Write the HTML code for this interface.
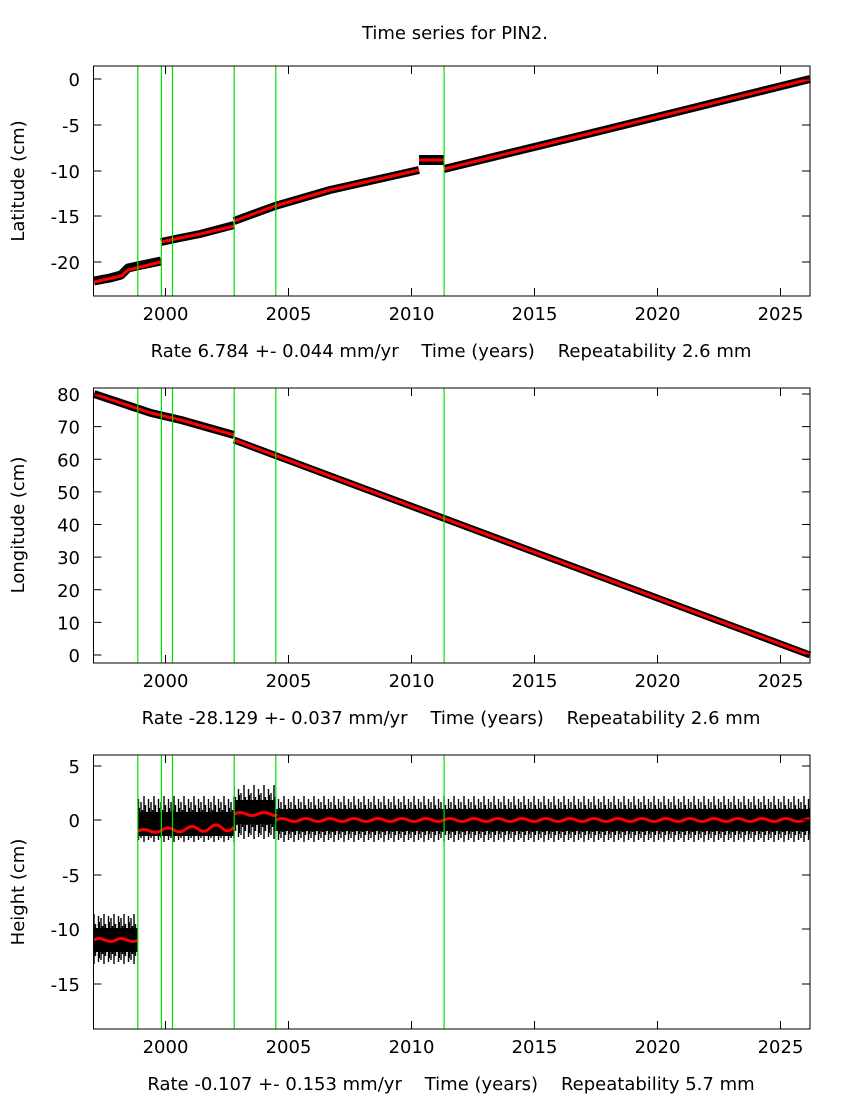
<!DOCTYPE html>
<html><head><meta charset="utf-8"><style>
body{margin:0;background:#fff}
svg text{font-family:"DejaVu Sans","Liberation Sans",sans-serif;font-size:18px;fill:#000}
</style></head><body>
<svg width="850" height="1100" xmlns="http://www.w3.org/2000/svg">
<defs>
<clipPath id="c3"><rect x="93.5" y="755" width="716.5" height="274"/></clipPath>
<pattern id="hn" patternUnits="userSpaceOnUse" x="0" y="790" width="10" height="60">
<path d="M1 12V48M2.5 20V42M4 6V52M5.5 15V45M7 22V38M8.5 9V50M9.5 18V44" stroke="#000" stroke-width="1.4"/>
</pattern>
<pattern id="hn1" patternUnits="userSpaceOnUse" x="0" y="910" width="10" height="60">
<path d="M1 8V50M2.5 16V44M4 4V54M5.5 14V46M7 18V42M8.5 6V52M9.5 12V48" stroke="#000" stroke-width="1.4"/>
</pattern>
<pattern id="hn3" patternUnits="userSpaceOnUse" x="0" y="783" width="10" height="60">
<path d="M1 10V52M2.5 18V44M4 2V56M5.5 14V48M7 20V42M8.5 6V54M9.5 12V50" stroke="#000" stroke-width="1.4"/>
</pattern>
</defs>
<text x="455" y="39" text-anchor="middle">Time series for PIN2.</text>

<!-- Panel 1 -->
<g fill="none" stroke-linejoin="round">
<polyline points="94,281 110,278 121,275 128,268 137,266 161,261" stroke="#000" stroke-width="9"/>
<polyline points="161,242 180,238 200,234 234,225" stroke="#000" stroke-width="8"/>
<polyline points="234,221 275,206 330,190 419,170" stroke="#000" stroke-width="8"/>
<polyline points="419,160 444,160" stroke="#000" stroke-width="10"/>
<polyline points="444,169 600,131 810,79" stroke="#000" stroke-width="8"/>
<polyline points="94,282 121,276 128,270 161,262" stroke="#f00" stroke-width="3"/>
<polyline points="161,242 180,238 200,234 234,226" stroke="#f00" stroke-width="3"/>
<polyline points="234,221 275,206 330,190 419,170" stroke="#f00" stroke-width="3"/>
<polyline points="419,160 444,160" stroke="#f00" stroke-width="3"/>
<polyline points="444,169 600,131 810,79" stroke="#f00" stroke-width="3"/>
</g>
<g stroke="#00e000" stroke-width="1.2">
<line x1="137.8" y1="66" x2="137.8" y2="296"/><line x1="161.4" y1="66" x2="161.4" y2="296"/><line x1="172.5" y1="66" x2="172.5" y2="296"/><line x1="234.2" y1="66" x2="234.2" y2="296"/><line x1="275.8" y1="66" x2="275.8" y2="296"/><line x1="444.1" y1="66" x2="444.1" y2="296"/>
</g>
<rect x="93.5" y="66" width="716.5" height="230" fill="none" stroke="#000"/>
<g stroke="#000">
<path d="M93.5 79h8M93.5 125h8M93.5 171h8M93.5 216h8M93.5 262h8M810 79h-8M810 125h-8M810 171h-8M810 216h-8M810 262h-8"/>
<path d="M165.5 296v-8M288.5 296v-8M411.5 296v-8M534.5 296v-8M657.5 296v-8M780.5 296v-8M165.5 66v8M288.5 66v8M411.5 66v8M534.5 66v8M657.5 66v8M780.5 66v8"/>
</g>
<g text-anchor="end"><text x="80" y="86">0</text><text x="80" y="132">-5</text><text x="80" y="178">-10</text><text x="80" y="223">-15</text><text x="80" y="269">-20</text></g>
<g text-anchor="middle"><text x="165.5" y="320">2000</text><text x="288.5" y="320">2005</text><text x="411.5" y="320">2010</text><text x="534.5" y="320">2015</text><text x="657.5" y="320">2020</text><text x="780.5" y="320">2025</text></g>
<text transform="translate(24 181) rotate(-90)" text-anchor="middle">Latitude (cm)</text>
<text x="451" y="357" text-anchor="middle" xml:space="preserve">Rate 6.784 +- 0.044 mm/yr    Time (years)    Repeatability 2.6 mm</text>

<!-- Panel 2 -->
<g fill="none" stroke-linejoin="round">
<polyline points="94,394 151,413 181,420 234,435" stroke="#000" stroke-width="8"/>
<polyline points="234,440 810,655" stroke="#000" stroke-width="7"/>
<polyline points="94,394 151,413 181,420 234,435" stroke="#f00" stroke-width="3"/>
<polyline points="234,440 810,655" stroke="#f00" stroke-width="3"/>
</g>
<g stroke="#00e000" stroke-width="1.2">
<line x1="137.8" y1="388" x2="137.8" y2="663"/><line x1="161.4" y1="388" x2="161.4" y2="663"/><line x1="172.5" y1="388" x2="172.5" y2="663"/><line x1="234.2" y1="388" x2="234.2" y2="663"/><line x1="275.8" y1="388" x2="275.8" y2="663"/><line x1="444.1" y1="388" x2="444.1" y2="663"/>
</g>
<rect x="93.5" y="388" width="716.5" height="275" fill="none" stroke="#000"/>
<g stroke="#000">
<path d="M93.5 394h8M93.5 426.6h8M93.5 459.3h8M93.5 491.9h8M93.5 524.5h8M93.5 557.1h8M93.5 589.8h8M93.5 622.4h8M93.5 655h8M810 394h-8M810 426.6h-8M810 459.3h-8M810 491.9h-8M810 524.5h-8M810 557.1h-8M810 589.8h-8M810 622.4h-8M810 655h-8"/>
<path d="M165.5 663v-8M288.5 663v-8M411.5 663v-8M534.5 663v-8M657.5 663v-8M780.5 663v-8M165.5 388v8M288.5 388v8M411.5 388v8M534.5 388v8M657.5 388v8M780.5 388v8"/>
</g>
<g text-anchor="end"><text x="80" y="401">80</text><text x="80" y="433.6">70</text><text x="80" y="466.3">60</text><text x="80" y="498.9">50</text><text x="80" y="531.5">40</text><text x="80" y="564.1">30</text><text x="80" y="596.8">20</text><text x="80" y="629.4">10</text><text x="80" y="662">0</text></g>
<g text-anchor="middle"><text x="165.5" y="687">2000</text><text x="288.5" y="687">2005</text><text x="411.5" y="687">2010</text><text x="534.5" y="687">2015</text><text x="657.5" y="687">2020</text><text x="780.5" y="687">2025</text></g>
<text transform="translate(24 525) rotate(-90)" text-anchor="middle">Longitude (cm)</text>
<text x="451" y="724" text-anchor="middle" xml:space="preserve">Rate -28.129 +- 0.037 mm/yr    Time (years)    Repeatability 2.6 mm</text>

<!-- Panel 3 -->
<g clip-path="url(#c3)">
<rect x="94" y="910" width="44" height="60" fill="url(#hn1)"/>
<rect x="94" y="928" width="44" height="24" fill="#000"/>
<rect x="138" y="790" width="96" height="60" fill="url(#hn)"/>
<rect x="138" y="812" width="96" height="24" fill="#000"/>
<rect x="234" y="783" width="42" height="60" fill="url(#hn3)"/>
<rect x="234" y="800" width="42" height="24" fill="#000"/>
<rect x="276" y="790" width="534" height="60" fill="url(#hn)"/>
<rect x="276" y="809" width="534" height="22" fill="#000"/>
<g fill="none" stroke="#f00" stroke-width="3">
<path d="M94 940q5 -3 11 0t11 0t11 0t11 0"/>
<path d="M138 831q6 -3 12 0t12 -1t12 0t12 -1t12 0t12 -1t12 0t12 -1"/>
<path d="M234 814q6 -3 12 0t12 0t12 0t6 0"/>
<path d="M276 820q6 -3 12 0t12 0t12 0t12 0t12 0t12 0t12 0t12 0t12 0t12 0t12 0t12 0t12 0t12 0t12 0t12 0t12 0t12 0t12 0t12 0t12 0t12 0t12 0t12 0t12 0t12 0t12 0t12 0t12 0t12 0t12 0t12 0t12 0t12 0t12 0t12 0t12 0t12 0t12 0t12 0t12 0t12 0t12 0t12 0t12 0t6 0"/>
</g>
</g>
<g stroke="#00e000" stroke-width="1.2">
<line x1="137.8" y1="755" x2="137.8" y2="1029"/><line x1="161.4" y1="755" x2="161.4" y2="1029"/><line x1="172.5" y1="755" x2="172.5" y2="1029"/><line x1="234.2" y1="755" x2="234.2" y2="1029"/><line x1="275.8" y1="755" x2="275.8" y2="1029"/><line x1="444.1" y1="755" x2="444.1" y2="1029"/>
</g>
<rect x="93.5" y="755" width="716.5" height="274" fill="none" stroke="#000"/>
<g stroke="#000">
<path d="M93.5 766h8M93.5 820h8M93.5 875h8M93.5 929h8M93.5 984h8M810 766h-8M810 820h-8M810 875h-8M810 929h-8M810 984h-8"/>
<path d="M165.5 1029v-8M288.5 1029v-8M411.5 1029v-8M534.5 1029v-8M657.5 1029v-8M780.5 1029v-8M165.5 755v8M288.5 755v8M411.5 755v8M534.5 755v8M657.5 755v8M780.5 755v8"/>
</g>
<g text-anchor="end"><text x="80" y="773">5</text><text x="80" y="827">0</text><text x="80" y="882">-5</text><text x="80" y="936">-10</text><text x="80" y="991">-15</text></g>
<g text-anchor="middle"><text x="165.5" y="1053">2000</text><text x="288.5" y="1053">2005</text><text x="411.5" y="1053">2010</text><text x="534.5" y="1053">2015</text><text x="657.5" y="1053">2020</text><text x="780.5" y="1053">2025</text></g>
<text transform="translate(24 892) rotate(-90)" text-anchor="middle">Height (cm)</text>
<text x="451" y="1090" text-anchor="middle" xml:space="preserve">Rate -0.107 +- 0.153 mm/yr    Time (years)    Repeatability 5.7 mm</text>
</svg>
</body></html>
